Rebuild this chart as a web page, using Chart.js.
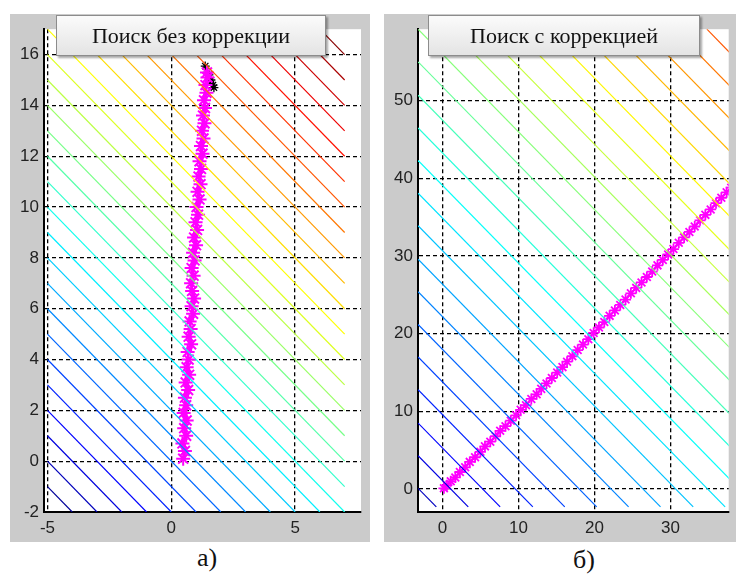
<!DOCTYPE html>
<html>
<head>
<meta charset="utf-8">
<script src="https://cdn.jsdelivr.net/npm/chart.js@4.4.1/dist/chart.umd.min.js"></script>
<style>
  body { margin: 0; background: #fff; width: 736px; height: 578px; position: relative; overflow: hidden; }
  canvas { position: absolute; background: #cbcbcb; }
  #chartA { left: 10px; top: 14px; }
  #chartB { left: 384px; top: 14px; }
  .tbox {
    position: absolute; height: 41px; box-sizing: border-box;
    border: 1px solid #8c8c8c;
    background: linear-gradient(#fbfbfb, #e4e4e4);
    box-shadow: 2px 2px 2px rgba(0,0,0,0.35);
    font: 22px "Liberation Serif", "Times New Roman", serif;
    color: #111; text-align: center; line-height: 40px;
  }
  .cap { position: absolute; font: 26px "Liberation Serif", "Times New Roman", serif; color: #111; }
</style>
</head>
<body>
<canvas id="chartA" width="360" height="528"></canvas>
<canvas id="chartB" width="352" height="528"></canvas>
<div class="tbox" style="left:56px; top:15px; width:270px;">Поиск без коррекции</div>
<div class="tbox" style="left:428px; top:15px; width:272px;">Поиск с коррекцией</div>
<div class="cap" style="left:197px; top:543px;">а)</div>
<div class="cap" style="left:573px; top:545px;">б)</div>
<script>
// panel a: search without correction
const xTicksA = [-5, 0, 5];
const yTicksA = [-2, 0, 2, 4, 6, 8, 10, 12, 14, 16];
const xRangeA = [-5.14, 7.66];
const yRangeA = [-2, 17];
const domainA = [-5, 7, -2, 17];       // contour grid x0, x1, y0, y1
const levelsA = [-6, -5, -4, -3, -2, -1, 0, 1, 2, 3, 4, 5, 6, 7, 8, 9, 10, 11, 12, 13, 14, 15, 16, 17, 18, 19, 20, 21, 22, 23];
const colorRangeA = [-6.75, 23.25];

const pathAx = [0.48, 0.55, 0.45, 0.60, 0.52, 0.62, 0.50, 0.60, 0.55, 0.68, 0.58, 0.72, 0.62, 0.70, 0.66, 0.80, 0.70,
  0.78, 0.74, 0.88, 0.82, 0.92, 0.84, 0.80, 0.90, 0.82, 0.94, 0.88, 1.00, 0.92, 1.04, 0.98, 1.08, 1.02, 1.14,
  1.06, 1.18, 1.10, 1.20, 1.14, 1.26, 1.20, 1.30, 1.24, 1.34, 1.28, 1.36, 1.32, 1.42, 1.38, 1.46, 1.44];
const pathAy = [0.1, 0.4, 0.7, 1.0, 1.3, 1.6, 1.9, 2.2, 2.5, 2.8, 3.1, 3.4, 3.7, 4.0, 4.3, 4.6, 4.9,
  5.2, 5.5, 5.8, 6.1, 6.4, 6.7, 7.0, 7.3, 7.6, 7.9, 8.2, 8.5, 8.8, 9.1, 9.4, 9.7, 10.0, 10.3,
  10.6, 10.9, 11.2, 11.5, 11.8, 12.1, 12.4, 12.7, 13.0, 13.3, 13.6, 13.9, 14.2, 14.5, 14.8, 15.1, 15.3];
// black tail at the end of the search
const tailAx = [1.37, 1.45, 1.52, 1.60, 1.55, 1.68, 1.72];
const tailAy = [15.55, 15.3, 15.2, 15.0, 14.95, 14.8, 14.7];

// panel b: search with correction
const xTicksB = [0, 10, 20, 30];
const yTicksB = [0, 10, 20, 30, 40, 50];
const xRangeB = [-3.21, 37.67];
const yRangeB = [-2.95, 59.2];
const domainB = [-3.2, 45, -2.3, 59.2];
const levelsB = [-3.1, 1.1, 5.3, 9.6, 13.8, 18.0, 22.2, 26.4, 30.7, 34.9, 39.1, 43.3, 47.5, 51.8, 56.0, 60.2,
  64.4, 68.6, 72.9, 77.1, 81.3, 85.5, 89.7, 94.0, 98.2, 102.4];
const colorRangeB = [-11.6, 122];

const pathBx = [0.2, 0.6, 1.1, 1.7, 2.3, 3.0, 3.6, 4.3, 5.0, 5.6, 6.3, 7.0, 7.6, 8.3, 9.0, 9.7, 10.3, 11.0, 11.7,
  12.4, 13.0, 13.7, 14.4, 15.1, 15.8, 16.4, 17.1, 17.8, 18.5, 19.2, 19.9, 20.6, 21.3, 22.0, 22.7, 23.4, 24.1,
  24.8, 25.5, 26.2, 26.9, 27.6, 28.3, 29.0, 29.7, 30.4, 31.1, 31.8, 32.5, 33.2, 33.9, 34.6, 35.3, 36.0, 36.7, 37.4, 38.0];
const pathBy = [0.1, 0.5, 1.0, 1.5, 2.2, 2.8, 3.5, 4.1, 4.8, 5.5, 6.1, 6.8, 7.5, 8.1, 8.8, 9.5, 10.2, 10.8, 11.6,
  12.2, 12.9, 13.6, 14.3, 15.0, 15.7, 16.4, 17.1, 17.9, 18.6, 19.3, 20.1, 20.8, 21.5, 22.3, 23.0, 23.7, 24.4,
  25.2, 25.9, 26.6, 27.3, 28.0, 28.8, 29.5, 30.2, 30.9, 31.7, 32.4, 33.1, 33.8, 34.6, 35.3, 36.0, 36.8, 37.5, 38.2, 38.8];

function jet(t) {
  const f = v => Math.round(255 * Math.max(0, Math.min(1, v)));
  return `rgb(${f(1.5 - Math.abs(4 * t - 3))},${f(1.5 - Math.abs(4 * t - 2))},${f(1.5 - Math.abs(4 * t - 1))})`;
}

// level lines of f = x + y, cut to the contour grid
function contourSets(levels, dom, crange) {
  const [x0, x1, y0, y1] = dom;
  const sets = [];
  levels.forEach(c => {
    const xa = Math.max(x0, c - y1);
    const xb = Math.min(x1, c - y0);
    if (xb <= xa) return;
    sets.push({
      data: [{ x: xa, y: c - xa }, { x: xb, y: c - xb }],
      showLine: true, pointRadius: 0, borderWidth: 1.2,
      borderColor: jet((c - crange[0]) / (crange[1] - crange[0]))
    });
  });
  return sets;
}

const pts = (xs, ys) => xs.map((x, i) => ({ x: x, y: ys[i] }));

const bgPlugin = {
  id: 'bg',
  beforeDraw(chart) {
    const { ctx, chartArea: a } = chart;
    ctx.save();
    ctx.fillStyle = '#fff';
    ctx.fillRect(a.left, a.top, a.right - a.left, a.bottom - a.top);
    ctx.restore();
  }
};

function axis(range, ticks, horiz) {
  return {
    type: 'linear', min: range[0], max: range[1],
    afterBuildTicks: s => { s.ticks = ticks.map(v => ({ value: v })); },
    afterFit: s => { if (horiz) s.height = 30; else s.width = 34; },
    grid: { color: '#000', lineWidth: 1.3, drawTicks: false, borderDash: [4, 3] },
    border: { display: true, color: '#000', width: 2, dash: [4, 3] },
    ticks: {
      color: '#222', padding: horiz ? 6 : 5,
      font: { family: '"Liberation Sans", Arial, sans-serif', size: 17 }
    }
  };
}

function makeChart(id, sets, xr, yr, xt, yt) {
  return new Chart(document.getElementById(id), {
    type: 'scatter',
    data: { datasets: sets },
    options: {
      responsive: false, animation: false,
      layout: { padding: { top: 13, left: 0, right: 0, bottom: 0 } },
      plugins: { legend: { display: false }, tooltip: { enabled: false } },
      scales: { x: axis(xr, xt, true), y: axis(yr, yt, false) }
    },
    plugins: [bgPlugin]
  });
}

makeChart('chartA', [
  ...contourSets(levelsA, domainA, colorRangeA),
  {
    data: pts(pathAx, pathAy), showLine: true, borderColor: '#ff00ff', borderWidth: 2,
    pointStyle: 'star', pointRadius: 7, pointBorderWidth: 2, pointBorderColor: '#ff00ff'
  },
  {
    data: pts(tailAx, tailAy), showLine: true, borderColor: '#000', borderWidth: 1,
    pointStyle: 'star', pointRadius: 4.5, pointBorderWidth: 1.3, pointBorderColor: '#000'
  }
], xRangeA, yRangeA, xTicksA, yTicksA);

makeChart('chartB', [
  ...contourSets(levelsB, domainB, colorRangeB),
  {
    data: pts(pathBx, pathBy), showLine: true, borderColor: '#ff00ff', borderWidth: 2,
    pointStyle: 'star', pointRadius: 5.5, pointBorderWidth: 1.8, pointBorderColor: '#ff00ff'
  }
], xRangeB, yRangeB, xTicksB, yTicksB);
</script>
</body>
</html>
